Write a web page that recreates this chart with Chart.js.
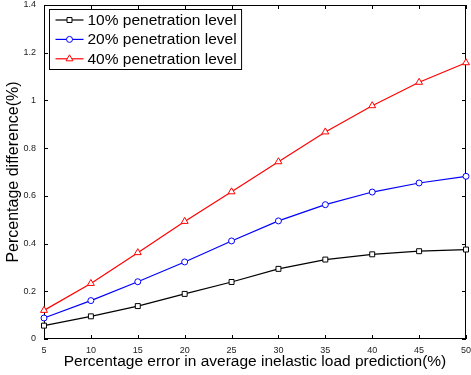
<!DOCTYPE html>
<html>
<head>
<meta charset="utf-8">
<script src="https://cdn.jsdelivr.net/npm/chart.js@4/dist/chart.umd.min.js"></script>
<style>
  html, body { margin: 0; padding: 0; background: #fff; }
</style>
</head>
<body>
<canvas id="chart" width="471" height="375"></canvas>
<script>
// x values: percentage error in average inelastic load prediction
const errorLevels = [5, 10, 15, 20, 25, 30, 35, 40, 45, 50];
// y values: percentage difference for each penetration level
const pen10 = [0.056, 0.095, 0.138, 0.189, 0.239, 0.294, 0.333, 0.355, 0.368, 0.375];
const pen20 = [0.088, 0.161, 0.240, 0.323, 0.411, 0.495, 0.563, 0.616, 0.654, 0.682];
const pen40 = [0.120, 0.233, 0.362, 0.493, 0.617, 0.743, 0.868, 0.978, 1.076, 1.158];
const seriesLabels = ["10% penetration level", "20% penetration level", "40% penetration level"];
const xTicks = [5, 10, 15, 20, 25, 30, 35, 40, 45, 50];
const yTicks = [0, 0.2, 0.4, 0.6, 0.8, 1, 1.2, 1.4];

const FONT = '"Liberation Sans", Arial, Helvetica, sans-serif';

const toPoints = (ys) => errorLevels.map((x, i) => ({ x: x, y: ys[i] }));

function series(label, data, color, style, radius) {
  return {
    label: label,
    data: toPoints(data),
    borderColor: color,
    backgroundColor: color,
    borderWidth: 1.2,
    pointStyle: style,
    pointRadius: radius,
    pointBorderWidth: 1,
    pointBorderColor: color,
    pointBackgroundColor: "#fff",
    tension: 0,
    clip: false,
  };
}

// box around the plot + inward tick marks on all four sides
const framePlugin = {
  id: "frame",
  beforeDatasetsDraw(chart) {
    const { ctx, chartArea: a, scales } = chart;
    ctx.save();
    ctx.strokeStyle = "#000";
    ctx.lineWidth = 1;
    ctx.strokeRect(a.left + 0.5, a.top + 0.5, a.right - a.left - 1, a.bottom - a.top - 1);
    const len = 4;
    ctx.beginPath();
    xTicks.forEach((v) => {
      const px = Math.round(scales.x.getPixelForValue(v)) + 0.5;
      ctx.moveTo(px, a.bottom); ctx.lineTo(px, a.bottom - len);
      ctx.moveTo(px, a.top); ctx.lineTo(px, a.top + len);
    });
    yTicks.forEach((v) => {
      const py = Math.round(scales.y.getPixelForValue(v)) + 0.5;
      ctx.moveTo(a.left, py); ctx.lineTo(a.left + len, py);
      ctx.moveTo(a.right, py); ctx.lineTo(a.right - len, py);
    });
    ctx.stroke();
    ctx.restore();
  },
  afterDatasetsDraw(chart) {
    // MATLAB style legend in the upper-left corner
    const { ctx, chartArea: a } = chart;
    const sets = chart.data.datasets;
    ctx.save();
    ctx.font = "15.5px " + FONT;
    const textW = Math.max(...sets.map((d) => ctx.measureText(d.label).width));
    const x0 = a.left + 5.5, y0 = a.top + 4.5;
    const w = 40 + textW + 3, h = 60;
    ctx.fillStyle = "#fff";
    ctx.fillRect(x0, y0, w, h);
    ctx.strokeStyle = "#000";
    ctx.lineWidth = 1;
    ctx.strokeRect(x0, y0, w, h);
    sets.forEach((d, i) => {
      const cy = y0 + 10.5 + i * 19.4;
      ctx.strokeStyle = d.borderColor;
      ctx.lineWidth = d.borderWidth;
      ctx.beginPath();
      ctx.moveTo(x0 + 6, cy); ctx.lineTo(x0 + 34, cy);
      ctx.stroke();
      ctx.fillStyle = "#fff";
      ctx.lineWidth = 1;
      Chart.helpers.drawPoint(ctx, { pointStyle: d.pointStyle, radius: d.pointRadius, rotation: 0, borderWidth: 1 }, x0 + 20, cy);
      ctx.fillStyle = "#000";
      ctx.textBaseline = "middle";
      ctx.textAlign = "left";
      ctx.fillText(d.label, x0 + 38, cy + 0.5);
    });
    ctx.restore();
  },
};

new Chart(document.getElementById("chart"), {
  type: "line",
  data: {
    datasets: [
      series(seriesLabels[0], pen10, "#000000", "rect", 3.5),
      series(seriesLabels[1], pen20, "#0000ff", "circle", 3),
      series(seriesLabels[2], pen40, "#ff0000", "triangle", 4),
    ],
  },
  options: {
    responsive: false,
    animation: false,
    layout: { padding: { top: 5, right: 2, left: 0, bottom: 0 } },
    plugins: { legend: { display: false }, tooltip: { enabled: false } },
    scales: {
      x: {
        type: "linear",
        min: 5,
        max: 50,
        afterBuildTicks: (s) => { s.ticks = xTicks.map((v) => ({ value: v })); },
        afterFit: (s) => { s.height = 36; s.paddingLeft = 0; s.paddingRight = 0; },
        grid: { display: false, drawTicks: false },
        border: { display: false },
        ticks: { color: "#222", font: { family: FONT, size: 9 }, padding: 6, maxRotation: 0, autoSkip: false },
        title: {
          display: true,
          text: "Percentage error in average inelastic load prediction(%)",
          color: "#000",
          font: { family: FONT, size: 15.5 },
          padding: { top: 0, bottom: 4 },
        },
      },
      y: {
        type: "linear",
        min: 0,
        max: 1.4,
        afterBuildTicks: (s) => { s.ticks = yTicks.map((v) => ({ value: v })); },
        afterFit: (s) => { s.width = 44; s.paddingTop = 0; s.paddingBottom = 0; },
        grid: { display: false, drawTicks: false },
        border: { display: false },
        ticks: {
          color: "#222",
          font: { family: FONT, size: 9 },
          padding: 8,
          autoSkip: false,
          callback: (v) => String(+Number(v).toFixed(1)),
        },
        title: {
          display: true,
          text: "Percentage difference(%)",
          color: "#000",
          font: { family: FONT, size: 16 },
          padding: { top: 4, bottom: 0 },
        },
      },
    },
  },
  plugins: [framePlugin],
});
</script>
</body>
</html>
